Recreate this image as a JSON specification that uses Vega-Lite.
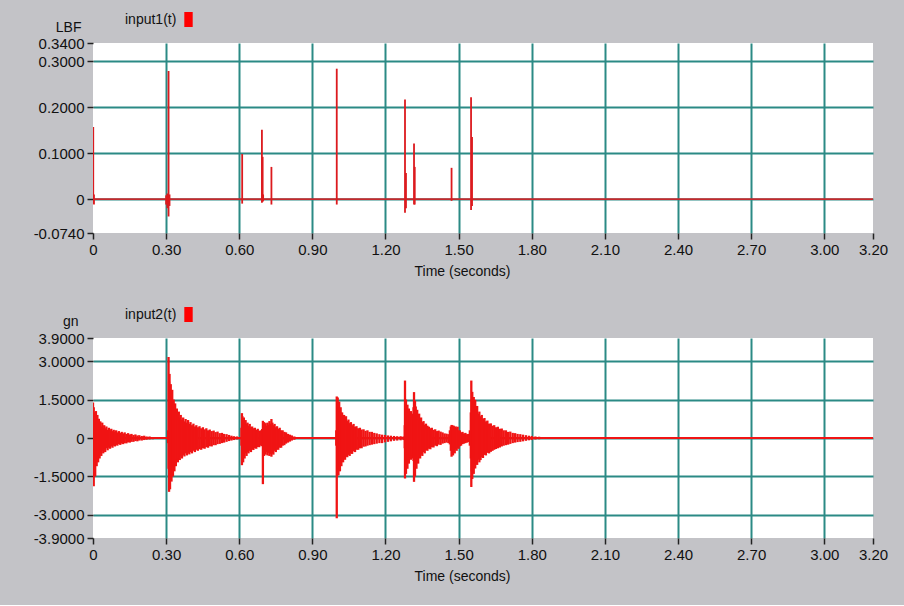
{
  "$schema": "https://vega.github.io/schema/vega-lite/v6.json",
  "background": "#c3c3c7",
  "padding": {"left": 33, "top": 12, "right": 17, "bottom": 22},
  "spacing": 105,
  "bounds": "flush",
  "config": {
    "view": {"fill": "white", "stroke": null},
    "axis": {
      "domain": false,
      "labelFont": "Liberation Sans",
      "labelFontSize": 15,
      "labelColor": "#111111",
      "labelPadding": 3,
      "labelOverlap": false,
      "labelFlush": false,
      "tickColor": "#222222",
      "tickSize": 6,
      "tickWidth": 1.5,
      "gridColor": "#2b8a85",
      "gridWidth": 2,
      "titleFont": "Liberation Sans",
      "titleFontSize": 14,
      "titleFontWeight": "normal",
      "titleColor": "#111111"
    },
    "legend": {
      "titleFont": "Liberation Sans",
      "titleFontSize": 14,
      "titleFontWeight": "normal",
      "titleColor": "#111111"
    }
  },
  "resolve": {"scale": {"color": "independent"}, "legend": {"color": "independent"}},
  "datasets": {
    "base1": [{"t": 0, "v": 0}, {"t": 3.2, "v": 0}],
    "spikes1": [
      {"t": 0.001, "v": -0.010, "hi": 0.157},
      {"t": 0.004, "v": -0.012, "hi": 0.010},
      {"t": 0.300, "v": -0.012, "hi": 0.008},
      {"t": 0.305, "v": -0.020, "hi": 0.012},
      {"t": 0.310, "v": -0.038, "hi": 0.279},
      {"t": 0.314, "v": -0.015, "hi": 0.010},
      {"t": 0.612, "v": -0.010, "hi": 0.098},
      {"t": 0.693, "v": -0.008, "hi": 0.151},
      {"t": 0.696, "v": -0.006, "hi": 0.092},
      {"t": 0.698, "v": -0.004, "hi": 0.010},
      {"t": 0.732, "v": -0.012, "hi": 0.070},
      {"t": 1.000, "v": -0.012, "hi": 0.284},
      {"t": 1.280, "v": -0.030, "hi": 0.217},
      {"t": 1.284, "v": -0.020, "hi": 0.057},
      {"t": 1.317, "v": -0.012, "hi": 0.121},
      {"t": 1.320, "v": -0.012, "hi": 0.070},
      {"t": 1.471, "v": -0.004, "hi": 0.068},
      {"t": 1.551, "v": -0.024, "hi": 0.222},
      {"t": 1.555, "v": -0.015, "hi": 0.135}
    ],
    "base2": [{"t": 0, "v": 0}, {"t": 3.2, "v": 0}],
    "env2": [
      {"t": 0.000, "v": -0.3, "hi": 1.38}, {"t": 0.003, "v": -1.88, "hi": 1.2}, {"t": 0.006, "v": -1.2, "hi": 1.0},
      {"t": 0.009, "v": -1.5, "hi": 0.85}, {"t": 0.012, "v": -0.9, "hi": 1.05}, {"t": 0.015, "v": -1.1, "hi": 0.7},
      {"t": 0.018, "v": -0.8, "hi": 0.9}, {"t": 0.021, "v": -0.95, "hi": 0.6}, {"t": 0.024, "v": -0.7, "hi": 0.75},
      {"t": 0.027, "v": -0.8, "hi": 0.55}, {"t": 0.030, "v": -0.6, "hi": 0.65}, {"t": 0.034, "v": -0.7, "hi": 0.45},
      {"t": 0.038, "v": -0.5, "hi": 0.6}, {"t": 0.042, "v": -0.6, "hi": 0.4}, {"t": 0.046, "v": -0.45, "hi": 0.5},
      {"t": 0.050, "v": -0.55, "hi": 0.38}, {"t": 0.055, "v": -0.4, "hi": 0.45}, {"t": 0.060, "v": -0.48, "hi": 0.32},
      {"t": 0.065, "v": -0.38, "hi": 0.4}, {"t": 0.070, "v": -0.42, "hi": 0.3}, {"t": 0.075, "v": -0.33, "hi": 0.36},
      {"t": 0.080, "v": -0.38, "hi": 0.27}, {"t": 0.085, "v": -0.3, "hi": 0.32}, {"t": 0.090, "v": -0.33, "hi": 0.25},
      {"t": 0.095, "v": -0.27, "hi": 0.3}, {"t": 0.100, "v": -0.3, "hi": 0.22}, {"t": 0.106, "v": -0.24, "hi": 0.27},
      {"t": 0.112, "v": -0.27, "hi": 0.2}, {"t": 0.118, "v": -0.22, "hi": 0.24}, {"t": 0.124, "v": -0.24, "hi": 0.18},
      {"t": 0.130, "v": -0.2, "hi": 0.22}, {"t": 0.137, "v": -0.21, "hi": 0.16}, {"t": 0.144, "v": -0.17, "hi": 0.19},
      {"t": 0.151, "v": -0.18, "hi": 0.14}, {"t": 0.158, "v": -0.15, "hi": 0.16}, {"t": 0.166, "v": -0.15, "hi": 0.12},
      {"t": 0.174, "v": -0.12, "hi": 0.14}, {"t": 0.182, "v": -0.13, "hi": 0.1}, {"t": 0.190, "v": -0.1, "hi": 0.11},
      {"t": 0.200, "v": -0.1, "hi": 0.08}, {"t": 0.210, "v": -0.08, "hi": 0.09}, {"t": 0.220, "v": -0.07, "hi": 0.06},
      {"t": 0.232, "v": -0.06, "hi": 0.06}, {"t": 0.245, "v": -0.05, "hi": 0.04}, {"t": 0.258, "v": -0.04, "hi": 0.04},
      {"t": 0.272, "v": -0.03, "hi": 0.03}, {"t": 0.286, "v": -0.03, "hi": 0.03},

      {"t": 0.308, "v": -0.2, "hi": 0.3}, {"t": 0.310, "v": -1.2, "hi": 3.16}, {"t": 0.312, "v": -2.1, "hi": 2.2},
      {"t": 0.314, "v": -1.6, "hi": 2.5}, {"t": 0.316, "v": -2.0, "hi": 1.9}, {"t": 0.319, "v": -1.4, "hi": 2.1},
      {"t": 0.322, "v": -1.7, "hi": 1.6}, {"t": 0.325, "v": -1.3, "hi": 1.88}, {"t": 0.328, "v": -1.5, "hi": 1.4},
      {"t": 0.331, "v": -1.1, "hi": 1.5}, {"t": 0.334, "v": -1.3, "hi": 1.2}, {"t": 0.337, "v": -0.95, "hi": 1.35},
      {"t": 0.340, "v": -1.1, "hi": 1.0}, {"t": 0.344, "v": -0.85, "hi": 1.15}, {"t": 0.348, "v": -0.95, "hi": 0.9},
      {"t": 0.352, "v": -0.8, "hi": 1.03}, {"t": 0.356, "v": -0.86, "hi": 0.8}, {"t": 0.360, "v": -0.72, "hi": 0.9},
      {"t": 0.365, "v": -0.8, "hi": 0.72}, {"t": 0.370, "v": -0.66, "hi": 0.8}, {"t": 0.375, "v": -0.72, "hi": 0.65},
      {"t": 0.380, "v": -0.6, "hi": 0.74}, {"t": 0.385, "v": -0.68, "hi": 0.6}, {"t": 0.390, "v": -0.58, "hi": 0.7},
      {"t": 0.395, "v": -0.64, "hi": 0.55}, {"t": 0.400, "v": -0.55, "hi": 0.62}, {"t": 0.406, "v": -0.6, "hi": 0.5},
      {"t": 0.412, "v": -0.5, "hi": 0.56}, {"t": 0.418, "v": -0.55, "hi": 0.45}, {"t": 0.424, "v": -0.46, "hi": 0.5},
      {"t": 0.430, "v": -0.5, "hi": 0.42}, {"t": 0.437, "v": -0.44, "hi": 0.46}, {"t": 0.444, "v": -0.46, "hi": 0.38},
      {"t": 0.451, "v": -0.4, "hi": 0.42}, {"t": 0.458, "v": -0.42, "hi": 0.34}, {"t": 0.465, "v": -0.36, "hi": 0.38},
      {"t": 0.472, "v": -0.38, "hi": 0.3}, {"t": 0.479, "v": -0.32, "hi": 0.33}, {"t": 0.487, "v": -0.33, "hi": 0.27},
      {"t": 0.495, "v": -0.28, "hi": 0.29}, {"t": 0.503, "v": -0.28, "hi": 0.23}, {"t": 0.511, "v": -0.24, "hi": 0.25},
      {"t": 0.520, "v": -0.23, "hi": 0.19}, {"t": 0.529, "v": -0.2, "hi": 0.2}, {"t": 0.538, "v": -0.18, "hi": 0.16},
      {"t": 0.548, "v": -0.15, "hi": 0.15}, {"t": 0.558, "v": -0.12, "hi": 0.12}, {"t": 0.568, "v": -0.1, "hi": 0.09},
      {"t": 0.578, "v": -0.08, "hi": 0.07}, {"t": 0.590, "v": -0.06, "hi": 0.06}, {"t": 0.600, "v": -0.05, "hi": 0.04},

      {"t": 0.609, "v": -0.3, "hi": 0.4}, {"t": 0.611, "v": -1.06, "hi": 0.97}, {"t": 0.613, "v": -0.8, "hi": 0.85},
      {"t": 0.616, "v": -0.95, "hi": 0.7}, {"t": 0.619, "v": -0.7, "hi": 0.8}, {"t": 0.622, "v": -0.8, "hi": 0.62},
      {"t": 0.626, "v": -0.6, "hi": 0.7}, {"t": 0.630, "v": -0.7, "hi": 0.55}, {"t": 0.634, "v": -0.55, "hi": 0.6},
      {"t": 0.638, "v": -0.6, "hi": 0.48}, {"t": 0.643, "v": -0.5, "hi": 0.55}, {"t": 0.648, "v": -0.55, "hi": 0.42},
      {"t": 0.653, "v": -0.45, "hi": 0.45}, {"t": 0.658, "v": -0.47, "hi": 0.38}, {"t": 0.664, "v": -0.4, "hi": 0.4},
      {"t": 0.670, "v": -0.42, "hi": 0.32}, {"t": 0.676, "v": -0.35, "hi": 0.36}, {"t": 0.682, "v": -0.36, "hi": 0.28},
      {"t": 0.688, "v": -0.3, "hi": 0.3}, {"t": 0.694, "v": -0.32, "hi": 0.35},
      {"t": 0.697, "v": -1.8, "hi": 0.67}, {"t": 0.699, "v": -0.6, "hi": 0.55}, {"t": 0.702, "v": -0.7, "hi": 0.62},
      {"t": 0.705, "v": -0.5, "hi": 0.5}, {"t": 0.708, "v": -0.65, "hi": 0.58}, {"t": 0.712, "v": -0.55, "hi": 0.48},
      {"t": 0.716, "v": -0.68, "hi": 0.6}, {"t": 0.720, "v": -0.58, "hi": 0.52}, {"t": 0.724, "v": -0.7, "hi": 0.66},
      {"t": 0.728, "v": -0.62, "hi": 0.56}, {"t": 0.732, "v": -0.73, "hi": 0.74}, {"t": 0.736, "v": -0.6, "hi": 0.6},
      {"t": 0.740, "v": -0.65, "hi": 0.5}, {"t": 0.745, "v": -0.5, "hi": 0.55}, {"t": 0.750, "v": -0.55, "hi": 0.42},
      {"t": 0.755, "v": -0.45, "hi": 0.46}, {"t": 0.760, "v": -0.46, "hi": 0.36}, {"t": 0.766, "v": -0.38, "hi": 0.4},
      {"t": 0.772, "v": -0.38, "hi": 0.3}, {"t": 0.778, "v": -0.3, "hi": 0.3}, {"t": 0.785, "v": -0.28, "hi": 0.24},
      {"t": 0.792, "v": -0.22, "hi": 0.22}, {"t": 0.800, "v": -0.18, "hi": 0.16}, {"t": 0.808, "v": -0.14, "hi": 0.13},
      {"t": 0.816, "v": -0.1, "hi": 0.1}, {"t": 0.826, "v": -0.07, "hi": 0.06}, {"t": 0.836, "v": -0.04, "hi": 0.04},

      {"t": 0.998, "v": -0.3, "hi": 0.3}, {"t": 1.000, "v": -3.13, "hi": 1.62}, {"t": 1.002, "v": -1.5, "hi": 1.35},
      {"t": 1.004, "v": -1.2, "hi": 1.58}, {"t": 1.007, "v": -1.45, "hi": 1.2}, {"t": 1.010, "v": -1.1, "hi": 1.42},
      {"t": 1.013, "v": -1.3, "hi": 1.05}, {"t": 1.016, "v": -0.95, "hi": 1.2}, {"t": 1.019, "v": -1.1, "hi": 0.9},
      {"t": 1.022, "v": -0.85, "hi": 1.0}, {"t": 1.026, "v": -0.95, "hi": 0.8}, {"t": 1.030, "v": -0.78, "hi": 0.9},
      {"t": 1.034, "v": -0.85, "hi": 0.72}, {"t": 1.038, "v": -0.72, "hi": 0.85}, {"t": 1.043, "v": -0.75, "hi": 0.66},
      {"t": 1.048, "v": -0.66, "hi": 0.72}, {"t": 1.053, "v": -0.7, "hi": 0.58}, {"t": 1.058, "v": -0.6, "hi": 0.62},
      {"t": 1.063, "v": -0.62, "hi": 0.5}, {"t": 1.069, "v": -0.52, "hi": 0.55}, {"t": 1.075, "v": -0.55, "hi": 0.44},
      {"t": 1.081, "v": -0.46, "hi": 0.46}, {"t": 1.088, "v": -0.46, "hi": 0.38}, {"t": 1.095, "v": -0.4, "hi": 0.4},
      {"t": 1.102, "v": -0.4, "hi": 0.33}, {"t": 1.110, "v": -0.34, "hi": 0.34}, {"t": 1.118, "v": -0.33, "hi": 0.28},
      {"t": 1.126, "v": -0.3, "hi": 0.3}, {"t": 1.135, "v": -0.28, "hi": 0.24}, {"t": 1.144, "v": -0.26, "hi": 0.24},
      {"t": 1.154, "v": -0.24, "hi": 0.2}, {"t": 1.164, "v": -0.22, "hi": 0.18}, {"t": 1.175, "v": -0.2, "hi": 0.15},
      {"t": 1.186, "v": -0.2, "hi": 0.13}, {"t": 1.198, "v": -0.17, "hi": 0.12}, {"t": 1.210, "v": -0.15, "hi": 0.1},
      {"t": 1.222, "v": -0.13, "hi": 0.09}, {"t": 1.235, "v": -0.11, "hi": 0.08}, {"t": 1.248, "v": -0.1, "hi": 0.07},
      {"t": 1.262, "v": -0.09, "hi": 0.07}, {"t": 1.274, "v": -0.08, "hi": 0.06},

      {"t": 1.279, "v": -0.4, "hi": 0.5}, {"t": 1.280, "v": -1.58, "hi": 2.24}, {"t": 1.282, "v": -1.1, "hi": 1.16},
      {"t": 1.284, "v": -1.4, "hi": 1.5}, {"t": 1.287, "v": -0.9, "hi": 1.1}, {"t": 1.290, "v": -1.2, "hi": 1.3},
      {"t": 1.293, "v": -0.85, "hi": 1.0}, {"t": 1.296, "v": -1.0, "hi": 1.15}, {"t": 1.300, "v": -0.75, "hi": 0.9},
      {"t": 1.304, "v": -0.85, "hi": 1.05}, {"t": 1.308, "v": -0.7, "hi": 0.8}, {"t": 1.312, "v": -0.8, "hi": 0.95},
      {"t": 1.315, "v": -0.9, "hi": 1.2}, {"t": 1.317, "v": -1.71, "hi": 1.79}, {"t": 1.319, "v": -1.2, "hi": 1.3},
      {"t": 1.321, "v": -1.5, "hi": 1.45}, {"t": 1.324, "v": -0.95, "hi": 1.23}, {"t": 1.327, "v": -1.2, "hi": 1.0},
      {"t": 1.330, "v": -0.86, "hi": 1.1}, {"t": 1.334, "v": -1.0, "hi": 0.85}, {"t": 1.338, "v": -0.75, "hi": 0.95},
      {"t": 1.342, "v": -0.8, "hi": 0.72}, {"t": 1.346, "v": -0.65, "hi": 0.8}, {"t": 1.351, "v": -0.7, "hi": 0.62},
      {"t": 1.356, "v": -0.55, "hi": 0.66}, {"t": 1.361, "v": -0.6, "hi": 0.52}, {"t": 1.366, "v": -0.48, "hi": 0.56},
      {"t": 1.372, "v": -0.5, "hi": 0.48}, {"t": 1.378, "v": -0.42, "hi": 0.44}, {"t": 1.384, "v": -0.44, "hi": 0.38},
      {"t": 1.390, "v": -0.36, "hi": 0.4}, {"t": 1.397, "v": -0.37, "hi": 0.32}, {"t": 1.404, "v": -0.3, "hi": 0.34},
      {"t": 1.411, "v": -0.32, "hi": 0.27}, {"t": 1.418, "v": -0.26, "hi": 0.29}, {"t": 1.426, "v": -0.27, "hi": 0.25},
      {"t": 1.434, "v": -0.22, "hi": 0.22}, {"t": 1.442, "v": -0.2, "hi": 0.18}, {"t": 1.450, "v": -0.18, "hi": 0.17},
      {"t": 1.458, "v": -0.2, "hi": 0.15}, {"t": 1.464, "v": -0.25, "hi": 0.3},
      {"t": 1.468, "v": -0.5, "hi": 0.45}, {"t": 1.471, "v": -0.73, "hi": 0.51}, {"t": 1.474, "v": -0.6, "hi": 0.5},
      {"t": 1.477, "v": -0.68, "hi": 0.45}, {"t": 1.480, "v": -0.55, "hi": 0.48}, {"t": 1.484, "v": -0.6, "hi": 0.42},
      {"t": 1.488, "v": -0.45, "hi": 0.45}, {"t": 1.492, "v": -0.5, "hi": 0.4}, {"t": 1.496, "v": -0.4, "hi": 0.44},
      {"t": 1.500, "v": -0.42, "hi": 0.3}, {"t": 1.505, "v": -0.32, "hi": 0.3}, {"t": 1.510, "v": -0.3, "hi": 0.22},
      {"t": 1.516, "v": -0.24, "hi": 0.24}, {"t": 1.522, "v": -0.22, "hi": 0.18}, {"t": 1.528, "v": -0.2, "hi": 0.2},
      {"t": 1.534, "v": -0.18, "hi": 0.15}, {"t": 1.540, "v": -0.16, "hi": 0.16}, {"t": 1.546, "v": -0.3, "hi": 0.3},
      {"t": 1.550, "v": -0.8, "hi": 1.0}, {"t": 1.552, "v": -1.91, "hi": 2.24}, {"t": 1.554, "v": -1.3, "hi": 1.5},
      {"t": 1.556, "v": -1.6, "hi": 1.8}, {"t": 1.559, "v": -1.1, "hi": 1.3}, {"t": 1.562, "v": -1.4, "hi": 1.6},
      {"t": 1.565, "v": -1.0, "hi": 1.2}, {"t": 1.568, "v": -1.19, "hi": 1.49}, {"t": 1.572, "v": -0.95, "hi": 1.1},
      {"t": 1.576, "v": -1.05, "hi": 1.25}, {"t": 1.580, "v": -0.85, "hi": 0.95}, {"t": 1.585, "v": -0.95, "hi": 1.03},
      {"t": 1.590, "v": -0.86, "hi": 0.85}, {"t": 1.595, "v": -0.75, "hi": 0.9}, {"t": 1.600, "v": -0.78, "hi": 0.75},
      {"t": 1.606, "v": -0.66, "hi": 0.78}, {"t": 1.612, "v": -0.68, "hi": 0.65}, {"t": 1.618, "v": -0.58, "hi": 0.68},
      {"t": 1.625, "v": -0.6, "hi": 0.56}, {"t": 1.632, "v": -0.54, "hi": 0.57}, {"t": 1.639, "v": -0.5, "hi": 0.48},
      {"t": 1.646, "v": -0.46, "hi": 0.5}, {"t": 1.653, "v": -0.43, "hi": 0.42}, {"t": 1.661, "v": -0.4, "hi": 0.44},
      {"t": 1.669, "v": -0.37, "hi": 0.36}, {"t": 1.677, "v": -0.33, "hi": 0.37}, {"t": 1.685, "v": -0.3, "hi": 0.3},
      {"t": 1.694, "v": -0.28, "hi": 0.3}, {"t": 1.703, "v": -0.26, "hi": 0.24}, {"t": 1.712, "v": -0.23, "hi": 0.25},
      {"t": 1.722, "v": -0.2, "hi": 0.2}, {"t": 1.732, "v": -0.18, "hi": 0.19}, {"t": 1.742, "v": -0.16, "hi": 0.16},
      {"t": 1.753, "v": -0.15, "hi": 0.15}, {"t": 1.764, "v": -0.13, "hi": 0.13}, {"t": 1.776, "v": -0.11, "hi": 0.11},
      {"t": 1.788, "v": -0.09, "hi": 0.09}, {"t": 1.800, "v": -0.08, "hi": 0.08}, {"t": 1.815, "v": -0.06, "hi": 0.06},
      {"t": 1.830, "v": -0.05, "hi": 0.05}, {"t": 1.850, "v": -0.04, "hi": 0.04}, {"t": 1.870, "v": -0.03, "hi": 0.03}
    ]
  },
  "vconcat": [
    {
      "width": 780,
      "height": 190,
      "encoding": {
        "x": {
          "field": "t", "type": "quantitative",
          "scale": {"domain": [0, 3.2], "nice": false, "zero": false},
          "axis": {
            "values": [0, 0.3, 0.6, 0.9, 1.2, 1.5, 1.8, 2.1, 2.4, 2.7, 3.0, 3.2],
            "labelExpr": "datum.value == 0 ? '0' : format(datum.value, '.2f')",
            "title": "Time (seconds)",
            "titleX": 369, "titleY": 38, "titleAlign": "center", "titleBaseline": "middle",
            "gridOpacity": {"condition": {"test": "datum.value < 0.01 || datum.value > 3.19", "value": 0}, "value": 1}
          }
        },
        "y": {
          "field": "v", "type": "quantitative",
          "scale": {"domain": [-0.074, 0.34], "nice": false, "zero": false},
          "axis": {
            "values": [-0.074, 0, 0.1, 0.2, 0.3, 0.34],
            "labelExpr": "datum.value == 0 ? '0' : replace(format(datum.value, '.4f'), '−', '-')",
            "title": "LBF",
            "titleAngle": 0, "titleAlign": "right", "titleBaseline": "middle",
            "titleX": -12, "titleY": -16,
            "gridOpacity": {"condition": {"test": "datum.value < -0.05 || datum.value > 0.33", "value": 0}, "value": 1}
          }
        }
      },
      "layer": [
        {
          "data": {"name": "base1"},
          "mark": {"type": "line", "strokeWidth": 1.8, "clip": true},
          "encoding": {
            "color": {
              "datum": "input1(t)",
              "scale": {"range": ["#c4282c"]},
              "legend": {
                "orient": "none", "legendX": 32, "legendY": -31,
                "title": "input1(t)", "titleOrient": "left", "titlePadding": 4,
                "labelExpr": "''",
                "symbolType": "M-0.56,-1H0.56V1H-0.56Z", "symbolSize": 225,
                "symbolFillColor": "#ff0000", "symbolStrokeColor": "#ff0000", "symbolStrokeWidth": 0
              }
            }
          }
        },
        {
          "data": {"name": "spikes1"},
          "mark": {"type": "rule", "color": "#dc1a1e", "strokeWidth": 1.8, "clip": true},
          "encoding": {"y2": {"field": "hi"}}
        }
      ]
    },
    {
      "width": 780,
      "height": 200,
      "encoding": {
        "x": {
          "field": "t", "type": "quantitative",
          "scale": {"domain": [0, 3.2], "nice": false, "zero": false},
          "axis": {
            "values": [0, 0.3, 0.6, 0.9, 1.2, 1.5, 1.8, 2.1, 2.4, 2.7, 3.0, 3.2],
            "labelExpr": "datum.value == 0 ? '0' : format(datum.value, '.2f')",
            "title": "Time (seconds)",
            "titleX": 369, "titleY": 38, "titleAlign": "center", "titleBaseline": "middle",
            "gridOpacity": {"condition": {"test": "datum.value < 0.01 || datum.value > 3.19", "value": 0}, "value": 1}
          }
        },
        "y": {
          "field": "v", "type": "quantitative",
          "scale": {"domain": [-3.9, 3.9], "nice": false, "zero": false},
          "axis": {
            "values": [-3.9, -3, -1.5, 0, 1.5, 3, 3.9],
            "labelExpr": "datum.value == 0 ? '0' : replace(format(datum.value, '.4f'), '−', '-')",
            "title": "gn",
            "titleAngle": 0, "titleAlign": "right", "titleBaseline": "middle",
            "titleX": -15, "titleY": -17,
            "gridOpacity": {"condition": {"test": "datum.value < -3.8 || datum.value > 3.8", "value": 0}, "value": 1}
          }
        }
      },
      "layer": [
        {
          "data": {"name": "base2"},
          "mark": {"type": "line", "strokeWidth": 2, "clip": true},
          "encoding": {
            "color": {
              "datum": "input2(t)",
              "scale": {"range": ["#f01414"]},
              "legend": {
                "orient": "none", "legendX": 32, "legendY": -31,
                "title": "input2(t)", "titleOrient": "left", "titlePadding": 4,
                "labelExpr": "''",
                "symbolType": "M-0.56,-1H0.56V1H-0.56Z", "symbolSize": 225,
                "symbolFillColor": "#ff0000", "symbolStrokeColor": "#ff0000", "symbolStrokeWidth": 0
              }
            }
          }
        },
        {
          "data": {"name": "env2"},
          "mark": {"type": "rule", "color": "#f01414", "strokeWidth": 2.3, "clip": true},
          "encoding": {"y2": {"field": "hi"}}
        }
      ]
    }
  ]
}
